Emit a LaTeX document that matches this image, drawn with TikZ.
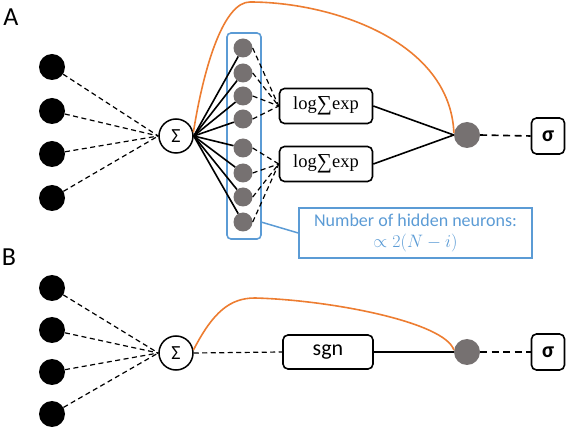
\RequirePackage{fix-cm}
\documentclass[tikz,border=0pt]{standalone}
\usepackage[no-math]{fontspec}
\setmainfont{Carlito}
\newfontfamily\serifmath{Liberation Serif}
\usetikzlibrary{calc}
\definecolor{myblue}{RGB}{91,155,213}
\definecolor{myorange}{RGB}{237,125,49}
\definecolor{mygray}{RGB}{118,113,113}
\newcommand{\lse}{{\serifmath log\raisebox{-0.08em}{\scalebox{1.15}{∑}}exp}}
\begin{document}
\begin{tikzpicture}[x=1pt,y=-1pt,
 inp/.style={circle,fill=black,minimum size=26pt,inner sep=0},
 hid/.style={circle,fill=mygray,minimum size=19pt,inner sep=0},
 outn/.style={circle,fill=mygray,minimum size=26pt,inner sep=0},
 sumn/.style={circle,draw,line width=1.5pt,minimum size=34pt,inner sep=0,font=\fontsize{20}{22}\selectfont},
 fbox/.style={draw,line width=1.6pt,rounded corners=5pt,inner sep=0,minimum width=93pt,minimum height=35pt},
 sigbox/.style={draw,line width=1.6pt,rounded corners=5pt,minimum width=33pt,minimum height=36pt,inner sep=0,font=\fontsize{22}{24}\selectfont\bfseries},
 dsh/.style={line width=1.2pt,dash pattern=on 5pt off 3.5pt},
 dshout/.style={line width=1.6pt,dash pattern=on 7pt off 4.5pt},
 sol/.style={line width=1.6pt},
 orng/.style={myorange,line width=1.6pt},
 lbl/.style={font=\fontsize{26}{28}\selectfont,inner sep=0}
]
\useasboundingbox (0,0) rectangle (568,430);
% ---------- Panel A ----------
\node[lbl] (labA) at (11,17) {A};
\foreach \i/\y in {1/67,2/111,3/154,4/198}{
  \node[inp] (a\i) at (52,\y) {};
}
\node[sumn] (sA) at (176,136) {Σ};
\node[draw=myblue,line width=1.6pt,rounded corners=4pt,minimum width=34pt,minimum height=206pt,inner sep=0] (hbox) at (244,136) {};
\foreach \i/\y in {1/48,2/73,3/96,4/119,5/148,6/173,7/197,8/222}{
  \node[hid] (h\i) at (243,\y) {};
}
\node[fbox,font=\fontsize{18.5}{20}\selectfont] (lse1) at (326,106) {\lse};
\node[fbox,font=\fontsize{18.5}{20}\selectfont] (lse2) at (326,164) {\lse};
\node[outn] (oA) at (467,135) {};
\node[sigbox] (gA) at (548,136) {σ};
\node[draw=myblue,line width=1.5pt,minimum width=233pt,minimum height=50pt,inner sep=0,align=center,text=myblue,font=\fontsize{18}{21}\selectfont] (ann) at (415.5,233) {Number of hidden neurons:\\$\propto 2(N-i)$};
\coordinate (hc) at (261,222);
\draw[myblue,line width=1.5pt] (hc) -- (ann.west);

\foreach \i in {1,...,4}{ \draw[dsh] (a\i) -- (sA.west); }
\foreach \i in {1,...,8}{ \draw[sol] (sA.east) -- (h\i); }
\foreach \i in {1,...,4}{ \draw[dsh] (h\i.east) -- (lse1.west); }
\foreach \i in {5,...,8}{ \draw[dsh] (h\i.east) -- (lse2.west); }
\draw[sol] (lse1.east) -- (oA.west);
\draw[sol] (lse2.east) -- (oA.west);
\draw[dshout] (oA.east) -- (gA.west);
\draw[orng] (sA.12) .. controls (205,60) and (225,2) .. (250,2) .. controls (330,2) and (450,40) .. (oA.172);

% ---------- Panel B ----------
\node[lbl] (labB) at (9,257) {B};
\foreach \i/\y in {1/288,2/330,3/372,4/414}{
  \node[inp] (b\i) at (52,\y) {};
}
\node[sumn] (sB) at (176,353) {Σ};
\node[fbox,minimum width=90pt,minimum height=34pt,font=\fontsize{22}{24}\selectfont] (sgn) at (328,352) {sgn};
\node[outn] (oB) at (467,352) {};
\node[sigbox] (gB) at (548,352) {σ};
\foreach \i in {1,...,4}{ \draw[dsh] (b\i) -- (sB.west); }
\draw[dsh] (sB.east) -- (sgn.west);
\draw[sol] (sgn.east) -- (oB.west);
\draw[dshout] (oB.east) -- (gB.west);
\draw[orng] (sB.10) .. controls (213,312) and (230,298) .. (255,298) .. controls (330,300) and (445,322) .. (oB.172);
\end{tikzpicture}
\end{document}
